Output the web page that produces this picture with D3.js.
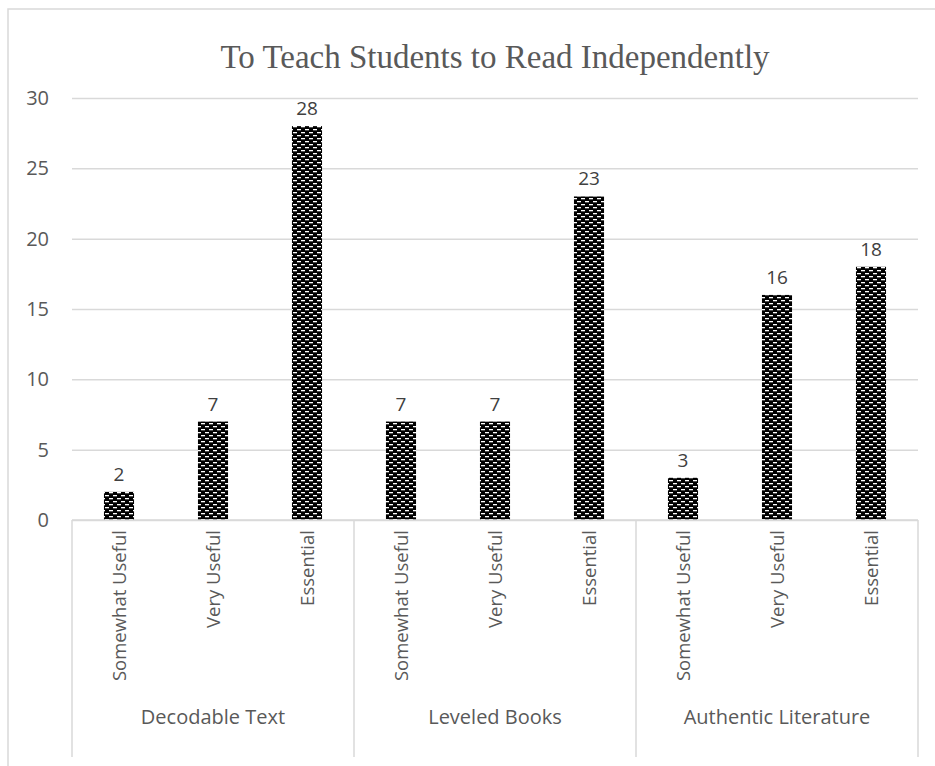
<!DOCTYPE html>
<html>
<head>
<meta charset="utf-8">
<script src="https://cdn.jsdelivr.net/npm/d3@7"></script>
<style>
  body { margin: 0; background: #fff; }
  text { font-family: "Open Sans", "Noto Sans", sans-serif; }
</style>
</head>
<body>
<svg id="drawing_region"></svg>
<script>
const groups = ["Decodable Text", "Leveled Books", "Authentic Literature"];
const ratings = ["Somewhat Useful", "Very Useful", "Essential"];
const decodable = [2, 7, 28];
const leveled = [7, 7, 23];
const authentic = [3, 16, 18];
const yTicks = [0, 5, 10, 15, 20, 25, 30];

const seriesByGroup = [decodable, leveled, authentic];
const data = [];
groups.forEach((g, gi) => {
    ratings.forEach((r, ri) => {
        data.push({ key: g + "|" + r, group: g, rating: r, value: seriesByGroup[gi][ri] });
    });
});

const width = 935, height = 766;
const margin = { top: 98, right: 17, bottom: 246, left: 72 };
const innerW = width - margin.left - margin.right;
const innerH = height - margin.top - margin.bottom;

const svg = d3.select("#drawing_region")
    .attr("width", width)
    .attr("height", height);

// pattern fill
const defs = svg.append("defs");
const pat = defs.append("pattern")
    .attr("id", "brick")
    .attr("patternUnits", "userSpaceOnUse")
    .attr("width", 8)
    .attr("height", 6);
pat.append("rect").attr("width", 8).attr("height", 6).attr("fill", "#000");
pat.append("rect").attr("x", 1).attr("y", 1).attr("width", 4).attr("height", 1.3).attr("fill", "#fff");
pat.append("rect").attr("x", 5).attr("y", 4).attr("width", 4).attr("height", 1.3).attr("fill", "#fff");
pat.append("rect").attr("x", -3).attr("y", 4).attr("width", 4).attr("height", 1.3).attr("fill", "#fff");

// outer chart border (runs off the window at right and bottom)
svg.append("rect")
    .attr("x", 8).attr("y", 9)
    .attr("width", 940).attr("height", 780)
    .attr("fill", "none")
    .attr("stroke", "#d9d9d9")
    .attr("stroke-width", 1.5);

svg.append("text")
    .attr("x", 495).attr("y", 68)
    .attr("text-anchor", "middle")
    .style("font-family", "'Liberation Serif', 'DejaVu Serif', serif")
    .style("font-size", "33px")
    .attr("fill", "#595959")
    .text("To Teach Students to Read Independently");

const chart = svg.append("g")
    .attr("transform", `translate(${margin.left}, ${margin.top})`);

const xscale = d3.scaleBand()
    .domain(data.map(d => d.key))
    .range([0, innerW])
    .paddingInner(0.68)
    .paddingOuter(0.34);

const groupScale = d3.scaleBand()
    .domain(groups)
    .range([0, innerW]);

const yscale = d3.scaleLinear()
    .domain([0, 30])
    .range([innerH, 0]);

// gridlines
const yaxis = d3.axisLeft(yscale)
    .tickValues(yTicks)
    .tickSize(-innerW)
    .tickPadding(23);

const yaxisGroup = chart.append("g").call(yaxis);
yaxisGroup.select(".domain").remove();
yaxisGroup.selectAll(".tick line")
    .attr("stroke", "#d9d9d9")
    .attr("stroke-width", 1.5);
yaxisGroup.selectAll(".tick text")
    .attr("fill", "#595959")
    .style("font-size", "20px")
    .style("font-family", "'Open Sans', sans-serif");

// bars
chart.selectAll("rect.bar")
    .data(data)
    .enter()
    .append("rect")
    .attr("class", "bar")
    .attr("x", d => xscale(d.key))
    .attr("y", d => yscale(d.value))
    .attr("width", xscale.bandwidth())
    .attr("height", d => innerH - yscale(d.value))
    .attr("fill", "url(#brick)");

// value labels
chart.selectAll("text.val")
    .data(data)
    .enter()
    .append("text")
    .attr("class", "val")
    .attr("x", d => xscale(d.key) + xscale.bandwidth() / 2)
    .attr("y", d => yscale(d.value) - 11)
    .attr("text-anchor", "middle")
    .attr("fill", "#404040")
    .style("font-size", "19px")
    .text(d => d.value);

// category axis
const sepBottom = innerH + 237;
chart.append("line")
    .attr("x1", 0).attr("x2", innerW)
    .attr("y1", innerH).attr("y2", innerH)
    .attr("stroke", "#d9d9d9")
    .attr("stroke-width", 1.5);

const seps = groups.map(g => groupScale(g)).concat([innerW]);
chart.selectAll("line.sep")
    .data(seps)
    .enter()
    .append("line")
    .attr("class", "sep")
    .attr("x1", d => d).attr("x2", d => d)
    .attr("y1", innerH).attr("y2", sepBottom)
    .attr("stroke", "#d9d9d9")
    .attr("stroke-width", 1.5);

chart.selectAll("text.sub")
    .data(data)
    .enter()
    .append("text")
    .attr("class", "sub")
    .attr("transform", d => `translate(${xscale(d.key) + xscale.bandwidth() / 2 + 7}, ${innerH + 10}) rotate(-90)`)
    .attr("text-anchor", "end")
    .attr("fill", "#595959")
    .style("font-size", "18.5px")
    .text(d => d.rating);

chart.selectAll("text.grp")
    .data(groups)
    .enter()
    .append("text")
    .attr("class", "grp")
    .attr("x", d => groupScale(d) + groupScale.bandwidth() / 2)
    .attr("y", innerH + 204)
    .attr("text-anchor", "middle")
    .attr("fill", "#595959")
    .style("font-size", "20px")
    .text(d => d);
</script>
</body>
</html>
